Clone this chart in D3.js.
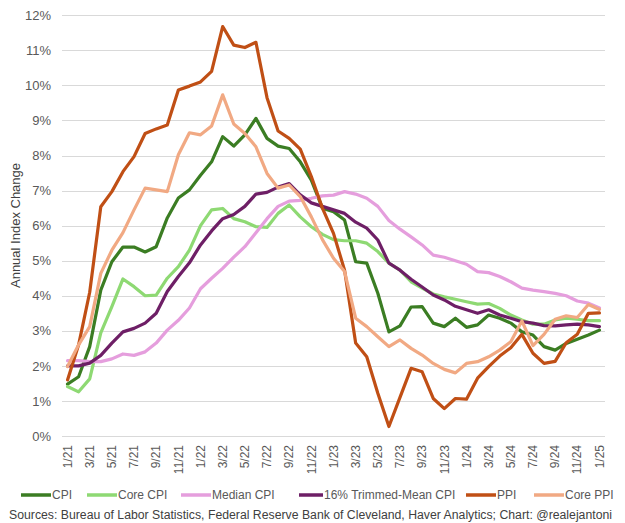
<!DOCTYPE html>
<html>
<head>
<meta charset="utf-8">
<script src="https://cdn.jsdelivr.net/npm/d3@7"></script>
<style>
  body { margin: 0; background: #fff; }
  svg { display: block; }
</style>
</head>
<body>
<script>
// months on the x axis, 1/21 .. 1/25
var months = ["1/21","2/21","3/21","4/21","5/21","6/21","7/21","8/21","9/21","10/21","11/21","12/21",
              "1/22","2/22","3/22","4/22","5/22","6/22","7/22","8/22","9/22","10/22","11/22","12/22",
              "1/23","2/23","3/23","4/23","5/23","6/23","7/23","8/23","9/23","10/23","11/23","12/23",
              "1/24","2/24","3/24","4/24","5/24","6/24","7/24","8/24","9/24","10/24","11/24","12/24",
              "1/25"];

var yTicks = [0, 1, 2, 3, 4, 5, 6, 7, 8, 9, 10, 11, 12];

var cpi = [1.48, 1.69, 2.55, 4.16, 4.97, 5.39, 5.39, 5.25, 5.4, 6.22, 6.79, 7.02,
           7.44, 7.82, 8.54, 8.27, 8.59, 9.06, 8.49, 8.27, 8.2, 7.82, 7.3, 6.5,
           6.4, 6.16, 4.97, 4.93, 4.07, 2.97, 3.14, 3.68, 3.69, 3.22, 3.12, 3.36,
           3.1, 3.17, 3.45, 3.36, 3.22, 2.97, 2.88, 2.55, 2.45, 2.64, 2.76, 2.88,
           3.02];

var coreCpi = [1.41, 1.26, 1.63, 2.94, 3.69, 4.48, 4.26, 4.0, 4.02, 4.5, 4.83, 5.3,
               6.0, 6.45, 6.49, 6.2, 6.11, 5.97, 5.95, 6.35, 6.59, 6.25, 5.97, 5.75,
               5.6, 5.57, 5.57, 5.5, 5.26, 4.93, 4.73, 4.4, 4.22, 4.05, 3.97, 3.9,
               3.83, 3.76, 3.78, 3.64, 3.45, 3.31, 3.19, 3.19, 3.31, 3.36, 3.33, 3.29,
               3.29];

var medianCpi = [2.15, 2.15, 2.12, 2.12, 2.2, 2.34, 2.3, 2.4, 2.65, 3.02, 3.3, 3.65,
                 4.2, 4.5, 4.78, 5.1, 5.4, 5.8, 6.2, 6.55, 6.7, 6.72, 6.78, 6.85,
                 6.87, 6.97, 6.9, 6.78, 6.55, 6.15, 5.9, 5.68, 5.45, 5.16, 5.1, 5.0,
                 4.9, 4.69, 4.66, 4.55, 4.4, 4.22, 4.16, 4.12, 4.07, 4.0, 3.85, 3.79,
                 3.65];

var trimmedCpi = [2.0, 2.0, 2.08, 2.3, 2.65, 2.97, 3.07, 3.22, 3.5, 4.12, 4.55, 4.94,
                  5.45, 5.85, 6.2, 6.32, 6.55, 6.9, 6.95, 7.1, 7.2, 6.88, 6.65, 6.55,
                  6.45, 6.35, 6.1, 5.93, 5.59, 4.93, 4.73, 4.47, 4.25, 4.02, 3.88, 3.7,
                  3.6, 3.5, 3.6, 3.45, 3.36, 3.26, 3.22, 3.15, 3.14, 3.17, 3.19, 3.17,
                  3.12];

var ppi = [1.6, 2.6, 4.1, 6.54, 6.97, 7.54, 7.97, 8.63, 8.76, 8.87, 9.87, 9.98,
           10.1, 10.4, 11.68, 11.15, 11.08, 11.23, 9.65, 8.7, 8.49, 8.18, 7.4, 6.5,
           5.78, 4.73, 2.65, 2.26, 1.22, 0.27, 1.1, 1.93, 1.83, 1.07, 0.78, 1.07,
           1.05, 1.65, 1.98, 2.28, 2.52, 2.9, 2.36, 2.07, 2.13, 2.66, 2.9, 3.5,
           3.51];

var corePpi = [1.98, 2.6, 3.12, 4.64, 5.3, 5.8, 6.45, 7.07, 7.02, 6.97, 8.02, 8.65,
               8.59, 8.84, 9.73, 8.9, 8.63, 8.25, 7.49, 7.07, 7.16, 6.83, 6.25, 5.6,
               5.07, 4.69, 3.36, 3.12, 2.83, 2.55, 2.74, 2.5, 2.31, 2.07, 1.9, 1.8,
               2.07, 2.12, 2.26, 2.45, 2.69, 3.28, 2.58, 2.9, 3.33, 3.43, 3.38, 3.75,
               3.61];

var seriesNames = ["CPI", "Core CPI", "Median CPI", "16% Trimmed-Mean CPI", "PPI", "Core PPI"];
var seriesValues = [cpi, coreCpi, medianCpi, trimmedCpi, ppi, corePpi];
var seriesColors = ["#3B7D23", "#8ED973", "#E59EDD", "#6E1F66", "#C04F15", "#F1A983"];

var width = 625;
var height = 523;

var margin = {top: 15, right: 20, bottom: 87, left: 62};
var plotRight = 605;
var plotBottom = 436;

var svg = d3.select("body")
            .append("svg")
            .attr("width", width)
            .attr("height", height)
            .attr("font-family", "'Liberation Sans', Arial, sans-serif");

var x = d3.scaleBand()
          .domain(months)
          .range([margin.left, plotRight]);

var y = d3.scaleLinear()
          .domain([0, 12])
          .range([plotBottom, margin.top + 0.3]);

function xc(d) { return x(d) + x.bandwidth() / 2; }

//gridlines
svg.append("g")
   .attr("class", "grid")
   .selectAll("line")
   .data(yTicks)
   .enter()
     .append("line")
     .attr("x1", margin.left)
     .attr("x2", plotRight)
     .attr("y1", function(d) { return Math.round(y(d)) + 0.5; })
     .attr("y2", function(d) { return Math.round(y(d)) + 0.5; })
     .attr("stroke", "#d9d9d9")
     .attr("stroke-width", 1.2);

//y axis labels
var yAxis = d3.axisLeft(y)
              .tickValues(yTicks)
              .tickSize(0)
              .tickPadding(0)
              .tickFormat(function(d) { return d + "%"; });

svg.append("g")
   .attr("transform", "translate(51,0)")
   .call(yAxis)
   .call(function(g) { g.select(".domain").remove(); })
   .selectAll("text")
     .attr("fill", "#595959")
     .attr("font-size", "13px")
     .attr("font-family", "'Liberation Sans', Arial, sans-serif");

//x axis labels (every second month)
var xAxis = d3.axisBottom(x)
              .tickValues(months.filter(function(d, i) { return i % 2 === 0; }))
              .tickSize(0);

svg.append("g")
   .attr("transform", "translate(0," + plotBottom + ")")
   .call(xAxis)
   .call(function(g) { g.select(".domain").remove(); })
   .selectAll("text")
     .attr("fill", "#595959")
     .attr("font-size", "12px")
     .attr("font-family", "'Liberation Sans', Arial, sans-serif")
     .attr("text-anchor", "end")
     .attr("dy", "0.35em")
     .attr("transform", "translate(0,9) rotate(-90)")
     .attr("x", 0)
     .attr("y", 0);

//axis title
svg.append("text")
   .attr("transform", "translate(20," + (plotBottom + margin.top) / 2 + ") rotate(-90)")
   .attr("text-anchor", "middle")
   .attr("fill", "#404040")
   .attr("font-size", "13px")
   .text("Annual Index Change");

//lines
var line = d3.line()
             .x(function(d, i) { return xc(months[i]); })
             .y(function(d) { return y(d); });

svg.append("g")
   .selectAll("path")
   .data(seriesValues)
   .enter()
     .append("path")
     .attr("d", line)
     .attr("fill", "none")
     .attr("stroke", function(d, i) { return seriesColors[i]; })
     .attr("stroke-width", 3.2)
     .attr("stroke-linejoin", "round")
     .attr("stroke-linecap", "round");

//legend (x = where each label text starts)
var legendX = [52, 118, 212, 324, 497, 565];
var legend = svg.append("g")
                .selectAll("g")
                .data(seriesNames)
                .enter()
                  .append("g")
                  .attr("transform", function(d, i) { return "translate(" + legendX[i] + ",495)"; });

legend.append("line")
      .attr("x1", function(d, i) { return i === 3 ? -25 : -31; })
      .attr("x2", -1)
      .attr("stroke", function(d, i) { return seriesColors[i]; })
      .attr("stroke-width", 3.5);

legend.append("text")
      .attr("x", 0)
      .attr("dy", "0.35em")
      .attr("fill", "#595959")
      .attr("font-size", "12px")
      .text(function(d) { return d; });

//source note
svg.append("text")
   .attr("x", 9)
   .attr("y", 519)
   .attr("fill", "#404040")
   .attr("font-size", "12.5px")
   .attr("textLength", 603)
   .attr("lengthAdjust", "spacingAndGlyphs")
   .text("Sources: Bureau of Labor Statistics, Federal Reserve Bank of Cleveland, Haver Analytics; Chart: @realejantoni");
</script>
</body>
</html>
